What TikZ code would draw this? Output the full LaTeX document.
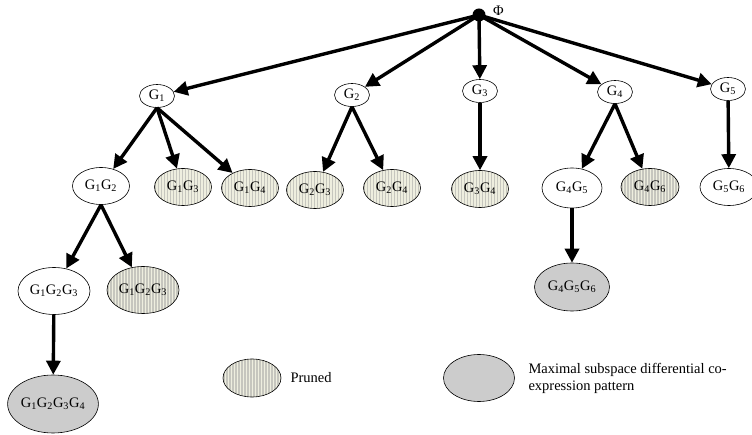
\documentclass[tikz,border=0pt]{standalone}
\usepackage{fontspec}
\setmainfont{Liberation Serif}
\usetikzlibrary{arrows.meta, positioning, shapes.geometric}

\definecolor{creamfill}{HTML}{EEEEDF}
\definecolor{stripegrey}{HTML}{C6C6BE}
\definecolor{maxgrey}{HTML}{CCCCCC}

\newcommand{\gn}[1]{G\textsubscript{#1}}

\tikzset{
  gset/.style={ellipse, draw, line width=0.6pt, inner sep=0pt, fill=white,
    font=\fontsize{14.5}{17}\selectfont},
  lvlone/.style={gset, minimum width=35pt, minimum height=23pt},
  lvltwo/.style={gset, minimum width=57pt, minimum height=37pt},
  lvlthree/.style={gset, minimum width=72pt, minimum height=47pt},
  lvlfour/.style={gset, minimum width=90pt, minimum height=58pt},
  pruned/.style={fill=creamfill, path picture={
      \path (path picture bounding box.south west) coordinate (sw)
            (path picture bounding box.north east) coordinate (ne);
      \foreach \sx in {1,4,...,100}
        \draw[stripegrey, line width=1.4pt] ([xshift=\sx pt]sw) -- ([xshift=\sx pt]sw |- ne);}},
  maximal/.style={fill=maxgrey},
  edge/.style={-{Triangle[length=14pt,width=14pt]}, line width=3.4pt},
  legendtext/.style={font=\fontsize{14.5}{17}\selectfont, align=left, anchor=west}
}

\begin{document}
\begin{tikzpicture}[x=1pt, y=-1pt]
    \useasboundingbox (0,0) rectangle (752,435);

    % root
    \node[circle, fill=black, inner sep=0pt, minimum size=13pt] (phi) at (479,15) {};
    \node[anchor=west, font=\fontsize{14.5}{17}\selectfont, inner sep=0pt] (philabel) at (493,11) {Φ};

    % first level
    \node[lvlone] (g1) at (157,96) {\gn{1}};
    \node[lvlone] (g2) at (352,95) {\gn{2}};
    \node[lvlone] (g3) at (480,91) {\gn{3}};
    \node[lvlone] (g4) at (615,92) {\gn{4}};
    \node[lvlone] (g5) at (728,89) {\gn{5}};

    % second level
    \node[lvltwo] (g12) at (101,186) {\gn{1}\gn{2}};
    \node[lvltwo, pruned] (g13) at (183,187) {\gn{1}\gn{3}};
    \node[lvltwo, pruned] (g14) at (250,188) {\gn{1}\gn{4}};
    \node[lvltwo, pruned] (g23) at (315,190) {\gn{2}\gn{3}};
    \node[lvltwo, pruned] (g24) at (392,188) {\gn{2}\gn{4}};
    \node[lvltwo, pruned] (g34) at (480,189) {\gn{3}\gn{4}};
    \node[lvltwo, minimum width=60pt, minimum height=40pt] (g45) at (572,188) {\gn{4}\gn{5}};
    \node[lvltwo, pruned, minimum width=58pt] (g46) at (650,187) {\gn{4}\gn{6}};
    \node[lvltwo, minimum width=58pt] (g56) at (729,187) {\gn{5}\gn{6}};

    % third level
    \node[lvlthree] (g123) at (54,291) {\gn{1}\gn{2}\gn{3}};
    \node[lvlthree, pruned] (g123p) at (143,290) {\gn{1}\gn{2}\gn{3}};
    \node[lvlthree, maximal, minimum width=75pt, minimum height=48pt] (g456) at (572,287) {\gn{4}\gn{5}\gn{6}};

    % fourth level
    \node[lvlfour, maximal] (g1234) at (53,404) {\gn{1}\gn{2}\gn{3}\gn{4}};

    % legend
    \node[gset, pruned, minimum width=58pt, minimum height=38pt] (keypruned) at (252,378) {};
    \node[legendtext] (keyprunedtext) at (287,378) {Pruned};
    \node[gset, maximal, minimum width=71pt, minimum height=47pt] (keymaximal) at (479,378) {};
    \node[legendtext] (keymaximaltext) at (525,378) {Maximal subspace differential co-\\expression pattern};

    % edges
    \foreach \child in {g1, g2, g3, g4, g5}
        \draw[edge] (phi.center) -- (\child);
    \foreach \child in {g12, g13, g14}
        \draw[edge] (g1.south) -- (\child);
    \foreach \child in {g23, g24}
        \draw[edge] (g2.south) -- (\child);
    \draw[edge] (g3) -- (g34);
    \foreach \child in {g45, g46}
        \draw[edge] (g4.south) -- (\child);
    \draw[edge] (g5) -- (g56);
    \foreach \child in {g123, g123p}
        \draw[edge] (g12.south) -- (\child);
    \draw[edge] (g123) -- (g1234);
    \draw[edge] (g45) -- (g456);
\end{tikzpicture}
\end{document}
